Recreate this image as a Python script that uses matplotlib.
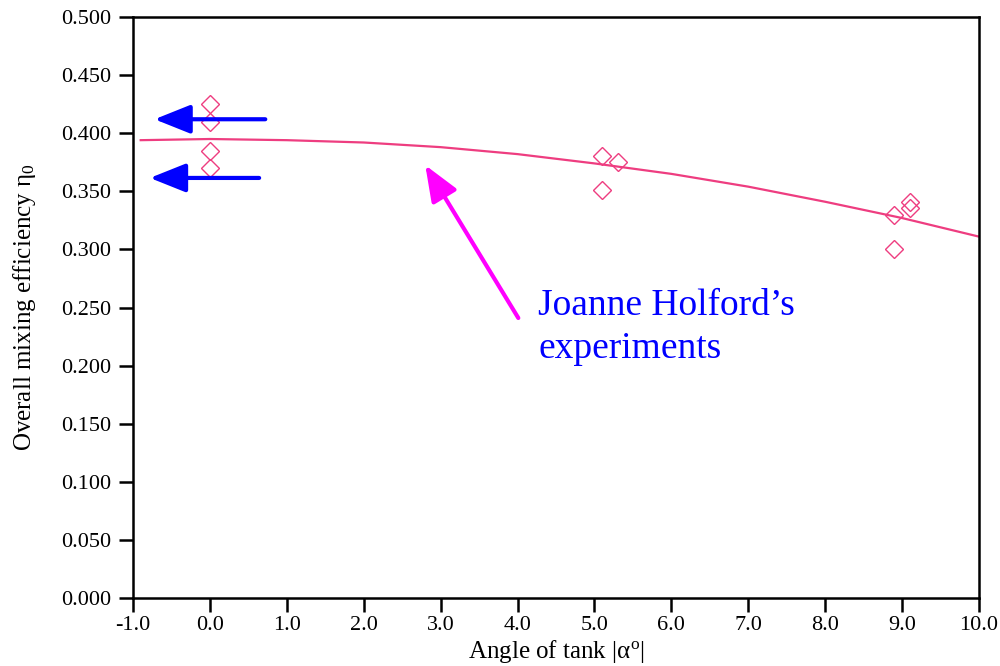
"""
Overall mixing efficiency against the tilt angle of the tank,
with the fitted trend and the tilted-tank experiment points.
"""

import matplotlib
matplotlib.use("Agg")
import matplotlib.pyplot as plt

plt.rcParams["font.family"] = ["Liberation Serif", "DejaVu Serif"]
plt.rcParams["mathtext.fontset"] = "custom"
plt.rcParams["mathtext.rm"] = "Liberation Serif"
plt.rcParams["mathtext.it"] = "Liberation Serif:italic"
plt.rcParams["mathtext.default"] = "rm"

# measured efficiencies
angle_points = [0.0, 0.0, 0.0, 0.0, 5.1, 5.1, 5.3, 8.9, 8.9, 9.1, 9.1]
efficiency_points = [0.425, 0.410, 0.385, 0.370, 0.380, 0.351, 0.375,
                     0.330, 0.300, 0.341, 0.336]

# fitted trend, read at integer angles
angle_fit = [-0.9, 0.0, 1.0, 2.0, 3.0, 4.0, 5.0, 6.0, 7.0, 8.0, 9.0, 10.0]
efficiency_fit = [0.394, 0.395, 0.394, 0.392, 0.388, 0.382, 0.374,
                  0.365, 0.354, 0.341, 0.327, 0.311]

x_ticks = [-1.0, 0.0, 1.0, 2.0, 3.0, 4.0, 5.0, 6.0, 7.0, 8.0, 9.0, 10.0]
y_ticks = [0.0, 0.05, 0.10, 0.15, 0.20, 0.25, 0.30, 0.35, 0.40, 0.45, 0.50]

PINK = "#ee3d80"
BLUE = "#0000ff"
MAGENTA = "#ff00ff"

fig = plt.figure(figsize=(10, 6.66), dpi=100)
ax = fig.add_axes([0.133, 0.102, 0.846, 0.8725])

ax.plot(angle_fit, efficiency_fit, color=PINK, lw=1.6, zorder=2)
ax.plot(angle_points, efficiency_points, linestyle="none", marker="D",
        markersize=9.5, markerfacecolor="none", markeredgecolor=PINK,
        markeredgewidth=1.0, zorder=3)

ax.set_xlim(-1.0, 10.0)
ax.set_ylim(0.0, 0.5)
ax.set_xticks(x_ticks)
ax.set_xticklabels([f"{v:.1f}" for v in x_ticks])
ax.set_yticks(y_ticks)
ax.set_yticklabels([f"{v:.3f}" for v in y_ticks])
ax.tick_params(axis="both", direction="out", length=10, width=1.8,
               labelsize=16)
ax.tick_params(axis="y", pad=6)
ax.tick_params(axis="x", pad=3)
for spine in ax.spines.values():
    spine.set_linewidth(1.8)

ax.set_xlabel(r"Angle of tank |$\alpha^{\mathrm{o}}$|", fontsize=18, labelpad=2)
ax.set_ylabel(r"Overall mixing efficiency $\eta_{0}$", fontsize=18, labelpad=16)

# arrows pointing to the untilted-tank results
blue_arrow = dict(arrowstyle="-|>,head_length=1.0,head_width=0.4",
                  color=BLUE, lw=3.0, mutation_scale=22, shrinkA=0, shrinkB=0)
ax.annotate("", xy=(-0.72, 0.412), xytext=(0.72, 0.412), arrowprops=blue_arrow)
ax.annotate("", xy=(-0.78, 0.3615), xytext=(0.64, 0.3615), arrowprops=blue_arrow)

magenta_arrow = dict(arrowstyle="-|>,head_length=1.0,head_width=0.4",
                     color=MAGENTA, lw=3.0, mutation_scale=22, shrinkA=0, shrinkB=0)
ax.annotate("", xy=(2.80, 0.3725), xytext=(4.01, 0.241), arrowprops=magenta_arrow)

ax.text(4.27, 0.266, "Joanne Holford\u2019s\nexperiments", color=BLUE,
        fontsize=27, ha="left", va="top", linespacing=1.3)

fig.savefig("out.png", dpi=100)
plt.close(fig)
